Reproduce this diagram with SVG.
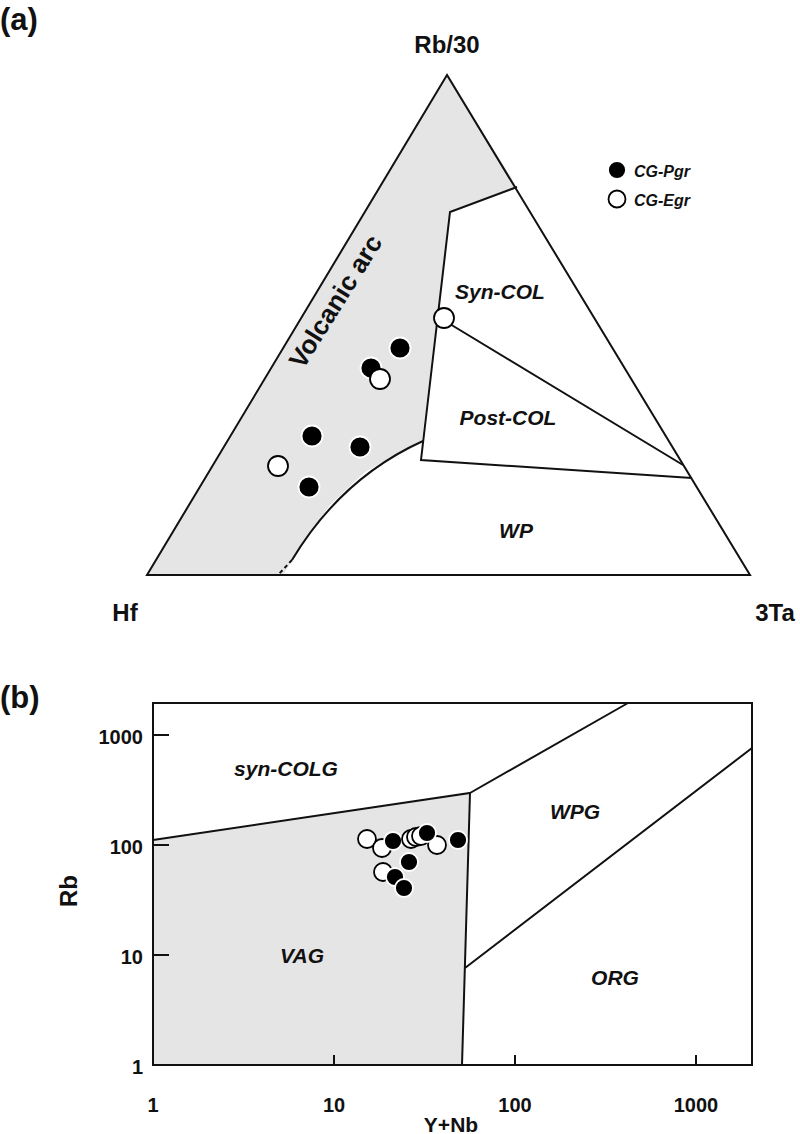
<svg xmlns="http://www.w3.org/2000/svg" width="800" height="1134" viewBox="0 0 800 1134">
<style>
text{font-family:"Liberation Sans",Arial,sans-serif;font-weight:bold;fill:#111}
.t{font-size:31px}
.ax{font-size:24px}
.tk{font-size:20px}
.lab{font-size:21px;font-style:italic}
.ln{fill:none;stroke:#111;stroke-width:2}
.f{fill:#000;stroke:#fff;stroke-width:1.8}
.o{fill:#fff;stroke:#000;stroke-width:1.8}
</style>
<text class="t" x="0" y="30">(a)</text>
<text class="t" x="0" y="708">(b)</text>
<g id="ternary">
<polygon points="447,75 147,575 283,575 300,548 330,505 365,472 422,440 450,212 517,187" fill="#e5e5e5"/>
<polygon class="ln" points="447,75 147,575 750,575"/>
<path class="ln" d="M517,187 L450,212 L421,460 L692,478 M440,318 L683,465"/>
<path class="ln" d="M423,441 C370,465 325,505 292,560"/>
<path class="ln" stroke-dasharray="4,3" d="M292,560 L278,575"/>
<text class="ax" x="447" y="53" text-anchor="middle">Rb/30</text>
<text class="ax" x="125" y="621" text-anchor="middle">Hf</text>
<text class="ax" x="775" y="621" text-anchor="middle">3Ta</text>
<text x="343" y="306" text-anchor="middle" style="font-size:26px" transform="rotate(-58 343 306)">Volcanic arc</text>
<text class="lab" x="500" y="299" text-anchor="middle">Syn-COL</text>
<text class="lab" x="508" y="425" text-anchor="middle">Post-COL</text>
<text class="lab" x="516" y="538" text-anchor="middle">WP</text>
<circle class="f" cx="400" cy="348" r="10.5"/>
<circle class="f" cx="371" cy="368" r="10.5"/>
<circle class="o" cx="380" cy="379" r="10"/>
<circle class="o" cx="444" cy="318" r="10"/>
<circle class="f" cx="312" cy="436" r="10.5"/>
<circle class="f" cx="360" cy="447" r="10.5"/>
<circle class="o" cx="278" cy="466" r="10"/>
<circle class="f" cx="309" cy="487" r="10.5"/>
<circle class="f" cx="617" cy="170" r="9"/>
<circle class="o" cx="617" cy="199" r="8.5"/>
<text class="lab" x="634" y="177" style="font-size:16px">CG-Pgr</text>
<text class="lab" x="634" y="206" style="font-size:16px">CG-Egr</text>
</g>
<g id="rb-plot">
<polygon points="153,840 470,793 462,1065 153,1065" fill="#e5e5e5"/>
<rect class="ln" x="153" y="703" width="599" height="362"/>
<path class="ln" d="M153,840 L470,793 L462,1065 M470,793 L628,703 M465,968 L752,748"/>
<path class="ln" d="M334,1065 v-10 M515,1065 v-10 M696,1065 v-10 M153,955 h16 M153,845 h16 M153,735 h16"/>
<text class="tk" x="153" y="1112" text-anchor="middle">1</text>
<text class="tk" x="334" y="1112" text-anchor="middle">10</text>
<text class="tk" x="515" y="1112" text-anchor="middle">100</text>
<text class="tk" x="696" y="1112" text-anchor="middle">1000</text>
<text class="tk" x="143" y="1074" text-anchor="end">1</text>
<text class="tk" x="143" y="964" text-anchor="end">10</text>
<text class="tk" x="143" y="854" text-anchor="end">100</text>
<text class="tk" x="143" y="744" text-anchor="end">1000</text>
<text class="tk" x="451" y="1132" text-anchor="middle" style="font-size:21px">Y+Nb</text>
<text class="ax" x="77" y="891" text-anchor="middle" transform="rotate(-90 77 891)">Rb</text>
<text class="lab" x="286" y="776" text-anchor="middle">syn-COLG</text>
<text class="lab" x="575" y="819" text-anchor="middle">WPG</text>
<text class="lab" x="302" y="963" text-anchor="middle">VAG</text>
<text class="lab" x="615" y="985" text-anchor="middle">ORG</text>
<circle class="o" cx="367" cy="839" r="9"/>
<circle class="o" cx="382" cy="848" r="9"/>
<circle class="f" cx="393" cy="841" r="9"/>
<circle class="o" cx="411" cy="839" r="9"/>
<circle class="o" cx="416" cy="837" r="9"/>
<circle class="o" cx="421" cy="836" r="9"/>
<circle class="o" cx="437" cy="845" r="9"/>
<circle class="f" cx="427" cy="833" r="9"/>
<circle class="f" cx="458" cy="840" r="9"/>
<circle class="f" cx="409" cy="862" r="9"/>
<circle class="o" cx="383" cy="872" r="9"/>
<circle class="f" cx="395" cy="877" r="9"/>
<circle class="f" cx="404" cy="888" r="9"/>
</g>
</svg>
